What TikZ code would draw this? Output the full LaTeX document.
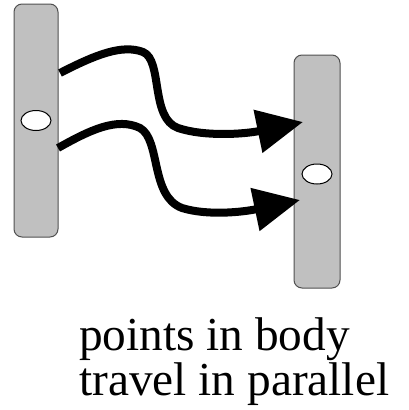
\documentclass[tikz,border=0pt]{standalone}
\usepackage{fontspec}
\setmainfont{Liberation Serif}
\usetikzlibrary{arrows.meta,shapes.geometric}
\definecolor{barfill}{HTML}{C0C0C0}
\definecolor{barline}{HTML}{505050}
\begin{document}
\begin{tikzpicture}[x=1pt,y=-1pt,
  bar/.style={draw=barline,line width=1pt,fill=barfill,rounded corners=8pt,minimum width=44pt,minimum height=233pt,inner sep=0pt},
  hole/.style={draw=black,line width=1pt,fill=white,ellipse,minimum width=30pt,minimum height=20pt,inner sep=0pt},
  path/.style={line width=8pt,line cap=butt,-{Triangle[length=46pt,width=42pt]}},
  caption/.style={font=\fontsize{47.3}{45.5}\selectfont,align=left,inner sep=0pt}]
\useasboundingbox (0,0) rectangle (409,410);
\node[bar] (L) at (36,120.5) {};
\node[bar,minimum width=46pt] (R) at (317,171.5) {};
\node[hole] (Lh) at (L.center) {};
\node[hole] (Rh) at (317,174) {};
\coordinate (s1) at (60,73);
\coordinate (t1) at (303,122);
\coordinate (s2) at (58,148);
\coordinate (t2) at (300,200);
\draw[path] (s1) .. controls (95,55) and (122,44) .. (143,52)
  .. controls (163,60) and (150,118) .. (178,128)
  .. controls (205,137) and (245,134) .. (t1);
\draw[path] (s2) .. controls (90,130) and (117,117) .. (140,128)
  .. controls (161,140) and (150,196) .. (182,208)
  .. controls (208,216) and (243,212) .. (t2);
\node[caption,anchor=north west] (cap) at (79,317) {points in body\\travel in parallel};
\end{tikzpicture}
\end{document}
